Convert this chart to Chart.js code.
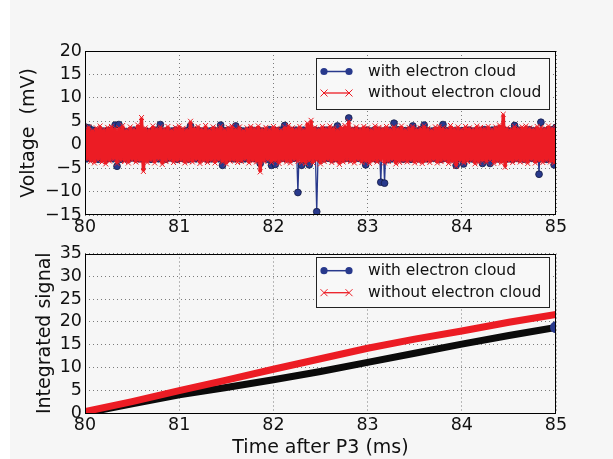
<!DOCTYPE html>
<html><head><meta charset="utf-8">
<script src="https://cdn.jsdelivr.net/npm/chart.js@4.4.1/dist/chart.umd.min.js"></script>
<style>
html,body{margin:0;padding:0;background:#fff;}
#fig{position:absolute;left:0;top:0;width:613px;height:459px;background:#fff;overflow:hidden;}
#bg{position:absolute;left:10px;top:0;width:603px;height:459px;background:#f6f6f6;}
#c1{position:absolute;left:0;top:0;}
#c2{position:absolute;left:0;top:240px;}
</style></head><body>
<div id="fig"><div id="bg"></div>
<canvas id="c1" width="613" height="240"></canvas>
<canvas id="c2" width="613" height="219"></canvas></div>
<script>
// ---- data ----
const seriesNames = ['with electron cloud', 'without electron cloud'];
const T0 = 80, DT = 0.02; // sampling grid of the voltage traces (ms)
const voltWith = [
 3.8,-3.0,3.6,-2.9,3.1,-3.0,2.9,-3.1,3.0,-2.8,
 2.9,-3.1,3.0,-2.9,3.1,-3.0,4.2,-4.6,4.3,-3.1,
 3.0,-2.9,2.8,-3.1,3.0,-2.8,3.1,-3.0,2.9,-3.0,
 3.0,-3.1,2.9,-3.0,2.8,-3.1,3.0,-2.9,3.1,-3.0,
 4.3,-3.0,2.9,-3.1,3.0,-2.8,2.9,-3.0,3.1,-3.1,
 3.0,-2.9,2.8,-3.0,3.0,-3.1,4.0,-2.9,3.0,-3.0,
 3.1,-3.0,2.9,-2.8,3.0,-3.1,2.9,-3.0,3.1,-2.9,
 2.9,-3.0,4.2,-4.4,3.0,-3.1,3.1,-2.9,3.0,-3.0,
 4.0,-2.9,3.1,-3.1,2.9,-3.0,3.0,-3.0,3.1,-2.9,
 3.0,-3.0,3.1,-4.0,2.9,-2.9,2.8,-3.1,3.2,-4.4,
 3.0,-4.2,3.0,-3.0,3.1,-2.9,4.1,-3.0,3.0,-3.1,
 3.0,-2.9,3.1,-10.2,2.9,-4.4,3.1,-3.0,3.0,-4.3,
 2.9,-3.0,3.1,-14.3,3.0,-3.1,2.9,-3.0,3.1,-2.9,
 3.0,-3.1,3.1,-2.9,4.0,-3.1,3.0,-3.0,3.0,-2.9,
 5.7,-3.0,3.0,-3.0,3.1,-2.9,2.9,-3.1,3.0,-4.3,
 3.1,-3.0,2.9,-2.9,3.2,-3.1,3.0,-8.0,2.9,-8.2,
 3.0,-3.2,3.1,-3.0,4.6,-3.1,3.2,-3.0,3.1,-3.1,
 3.0,-2.9,3.1,-3.1,4.0,-3.0,2.9,-3.0,3.2,-3.1,
 4.2,-3.0,3.0,-3.0,2.9,-2.9,3.1,-3.1,3.0,-3.1,
 4.3,-2.9,3.0,-3.1,3.1,-3.0,3.0,-4.4,2.9,-3.0,
 3.0,-4.1,3.1,-2.9,3.1,-3.0,2.9,-3.2,3.1,-3.0,
 3.0,-4.0,3.2,-3.1,3.0,-4.0,3.1,-3.1,3.2,-3.0,
 3.1,-3.1,3.0,-3.0,3.0,-3.0,2.9,-3.1,4.1,-2.9,
 3.1,-3.0,2.9,-3.1,3.1,-3.0,3.2,-2.9,3.0,-3.1,
 3.0,-6.3,4.8,-3.0,3.0,-3.1,3.1,-2.9,3.2,-4.3,3.7
];
const voltWithout = [
 3.4,-3.2,3.8,-3.6,3.1,-3.9,3.6,-3.3,4.0,-3.7,
 3.3,-4.1,3.7,-3.5,3.9,-3.2,3.5,-4.0,3.6,-3.4,
 4.1,-3.6,3.2,-3.9,3.8,-3.3,3.4,-3.7,4.2,-3.5,
 5.8,-5.7,3.6,-3.8,3.3,-3.4,4.0,-3.9,3.5,-3.2,
 3.8,-4.2,3.4,-3.6,3.9,-3.3,3.2,-3.8,3.7,-3.5,
 4.0,-3.4,3.5,-3.9,3.3,-3.6,5.0,-3.7,3.6,-3.3,
 3.9,-4.0,3.4,-3.5,4.1,-3.8,3.2,-3.4,3.8,-3.9,
 3.5,-3.3,3.9,-3.7,3.3,-4.1,3.7,-3.5,4.0,-3.4,
 3.4,-3.8,3.8,-3.6,3.1,-3.2,3.6,-3.9,3.9,-3.5,
 3.5,-3.7,4.0,-5.8,3.4,-3.6,3.7,-3.3,3.3,-3.8,
 3.9,-3.5,3.5,-4.0,3.2,-3.4,3.8,-3.7,4.1,-3.9,
 3.6,-3.3,3.4,-3.6,3.9,-3.8,3.3,-4.0,4.6,-3.5,
 5.2,-3.9,3.7,-3.4,3.4,-4.1,3.9,-3.6,3.5,-3.3,
 4.0,-3.8,3.6,-3.5,3.3,-4.2,3.8,-3.7,4.1,-3.4,
 5.0,-3.6,3.5,-3.9,3.8,-3.3,3.4,-3.8,3.9,-3.6,
 3.6,-4.0,3.3,-3.5,4.0,-3.7,3.7,-3.4,3.5,-3.9,
 3.9,-3.6,3.4,-3.3,3.8,-4.1,3.5,-3.8,4.0,-3.5,
 3.3,-3.7,3.7,-3.4,3.9,-3.9,3.4,-3.6,3.6,-4.0,
 4.0,-3.5,3.5,-3.8,3.2,-3.3,3.8,-3.9,3.9,-3.6,
 3.6,-3.4,3.4,-4.0,4.1,-3.7,3.5,-4.6,3.8,-3.5,
 3.3,-3.9,3.9,-3.6,3.6,-3.4,3.4,-4.1,4.0,-3.8,
 3.7,-3.5,3.5,-3.7,3.9,-3.3,3.3,-4.0,3.8,-3.6,
 4.2,-3.9,6.5,-4.8,3.6,-3.5,3.4,-3.8,3.9,-3.4,
 3.5,-3.7,3.8,-3.6,4.0,-4.0,3.6,-3.3,3.4,-3.9,
 3.9,-3.5,3.7,-3.8,3.5,-3.4,4.0,-3.7,3.6,-3.9,3.8
];
const intTime    = [80, 80.5, 81, 81.5, 82, 82.5, 83, 83.5, 84, 84.5, 85];
const intWith    = [0.0, 2.0, 4.0, 5.6, 7.3, 9.1, 11.1, 13.1, 15.1, 17.0, 18.8];
const intWithout = [0.3, 2.5, 4.9, 7.2, 9.6, 11.9, 14.2, 16.2, 18.0, 19.9, 21.6];
const timeTicks  = [80, 81, 82, 83, 84, 85];
const voltTicks  = [-15, -10, -5, 0, 5, 10, 15, 20];
const intTicks   = [0, 5, 10, 15, 20, 25, 30, 35];

// ---- style ----
const NAVY = '#28398c', RED = '#ec1c24', INK = '#111';
const FONT = '"DejaVu Sans", sans-serif';
const voltTime = voltWith.map((_, i) => T0 + i * DT);
const pts = (xs, ys) => xs.map((x, i) => ({x: x, y: ys[i]}));
const fmt = v => String(v).replace('-', '\u2212');

const mplFrameLegend = {
  id: 'mplFrameLegend',
  afterDraw(chart, args, o) {
    const ctx = chart.ctx, a = chart.chartArea;
    ctx.save();
    ctx.strokeStyle = '#000'; ctx.lineWidth = 1;
    ctx.strokeRect(Math.round(a.left) + 0.5, Math.round(a.top) + 0.5,
                   Math.round(a.right - a.left) - 1, Math.round(a.bottom - a.top) - 1);
    // legend box
    ctx.fillStyle = '#f8f8f8';
    ctx.fillRect(o.x, o.y, o.w, o.h);
    ctx.strokeStyle = '#222';
    ctx.strokeRect(o.x + 0.5, o.y + 0.5, o.w, o.h);
    const x1 = o.x + 8, x2 = o.x + 33;
    // row 1
    ctx.strokeStyle = NAVY; ctx.lineWidth = 1.5;
    ctx.beginPath(); ctx.moveTo(x1, o.r1); ctx.lineTo(x2, o.r1); ctx.stroke();
    ctx.fillStyle = NAVY;
    [x1, x2].forEach(x => { ctx.beginPath(); ctx.arc(x, o.r1, 3.6, 0, Math.PI * 2); ctx.fill(); });
    // row 2
    ctx.strokeStyle = RED; ctx.lineWidth = 1.3;
    ctx.beginPath(); ctx.moveTo(x1, o.r2); ctx.lineTo(x2, o.r2); ctx.stroke();
    ctx.lineWidth = 1;
    [x1, x2].forEach(x => {
      ctx.beginPath();
      ctx.moveTo(x - 3.5, o.r2 - 3.5); ctx.lineTo(x + 3.5, o.r2 + 3.5);
      ctx.moveTo(x - 3.5, o.r2 + 3.5); ctx.lineTo(x + 3.5, o.r2 - 3.5);
      ctx.stroke();
    });
    ctx.fillStyle = INK;
    ctx.font = '15.5px ' + FONT;
    ctx.textBaseline = 'middle'; ctx.textAlign = 'left';
    ctx.fillText(seriesNames[0], o.x + 52, o.r1);
    ctx.fillText(seriesNames[1], o.x + 52, o.r2);
    ctx.restore();
  }
};

const gridOpt = {color: 'rgba(0,0,0,0.5)', lineWidth: 1, drawTicks: false};
const borderOpt = {display: false, dash: [1, 3]};
const tickFont = {family: FONT, size: 17.5};
const titleFont = {family: FONT, size: 19};

function xScale(h, title) {
  return {
    type: 'linear', min: 80, max: 85,
    afterBuildTicks: s => { s.ticks = timeTicks.map(v => ({value: v})); },
    afterFit: s => { s.height = h; },
    grid: gridOpt, border: borderOpt,
    ticks: {font: tickFont, color: INK, padding: 2, maxRotation: 0, autoSkip: false, callback: fmt},
    title: title ? {display: true, text: title, font: titleFont, color: INK, padding: {top: 0, bottom: 0}} : {display: false}
  };
}
function yScale(min, max, ticks, title, titlePad) {
  return {
    type: 'linear', min: min, max: max,
    afterBuildTicks: s => { s.ticks = ticks.map(v => ({value: v})); },
    afterFit: s => { s.width = 85; },
    grid: gridOpt, border: borderOpt,
    ticks: {font: tickFont, color: INK, padding: 3, autoSkip: false, callback: fmt},
    title: {display: true, text: title, font: titleFont, color: INK, padding: {top: titlePad, bottom: 0}}
  };
}

new Chart(document.getElementById('c1'), {
  type: 'line',
  data: {datasets: [
    {label: seriesNames[1], data: pts(voltTime, voltWithout), order: 0, clip: 0,
     borderColor: RED, borderWidth: 3.4, borderJoinStyle: 'bevel', pointStyle: 'crossRot', pointRadius: 3.5,
     pointBorderColor: RED, pointBorderWidth: 1, tension: 0},
    {label: seriesNames[0], data: pts(voltTime, voltWith), order: 1, clip: 0,
     borderColor: NAVY, borderWidth: 1.3, pointStyle: 'circle', pointRadius: 3.4,
     pointBackgroundColor: NAVY, pointBorderColor: '#141c45', pointBorderWidth: 0.8, tension: 0}
  ]},
  options: {
    responsive: false, animation: false, events: [],
    layout: {autoPadding: false, padding: {top: 51, right: 57, left: 0, bottom: 0}},
    plugins: {legend: {display: false}, tooltip: {enabled: false},
      mplFrameLegend: {x: 316, y: 58, w: 233, h: 51, r1: 71.5, r2: 93}},
    scales: {x: xScale(25, null), y: yScale(-15, 20, voltTicks, 'Voltage  (mV)', 18)}
  },
  plugins: [mplFrameLegend]
});

new Chart(document.getElementById('c2'), {
  type: 'line',
  data: {datasets: [
    {label: seriesNames[1], data: pts(intTime, intWithout), order: 0, clip: 0,
     borderColor: RED, borderWidth: 7, pointRadius: 0, tension: 0, borderJoinStyle: 'round'},
    {label: seriesNames[0], data: pts(intTime, intWith), order: 1, clip: 0,
     borderColor: '#0b0b0b', borderWidth: 7, tension: 0, borderJoinStyle: 'round',
     pointRadius: ctx => ctx.dataIndex === intTime.length - 1 ? 2.5 : 0,
     pointBackgroundColor: NAVY, pointBorderColor: NAVY}
  ]},
  options: {
    responsive: false, animation: false, events: [],
    layout: {autoPadding: false, padding: {top: 8, right: 57, left: 0, bottom: 0}},
    plugins: {legend: {display: false}, tooltip: {enabled: false},
      mplFrameLegend: {x: 316, y: 17, w: 233, h: 50, r1: 30.7, r2: 52.7}},
    scales: {x: xScale(46, 'Time after P3 (ms)'), y: yScale(0, 35, intTicks, 'Integrated signal', 34)}
  },
  plugins: [mplFrameLegend]
});
</script>
</body></html>
